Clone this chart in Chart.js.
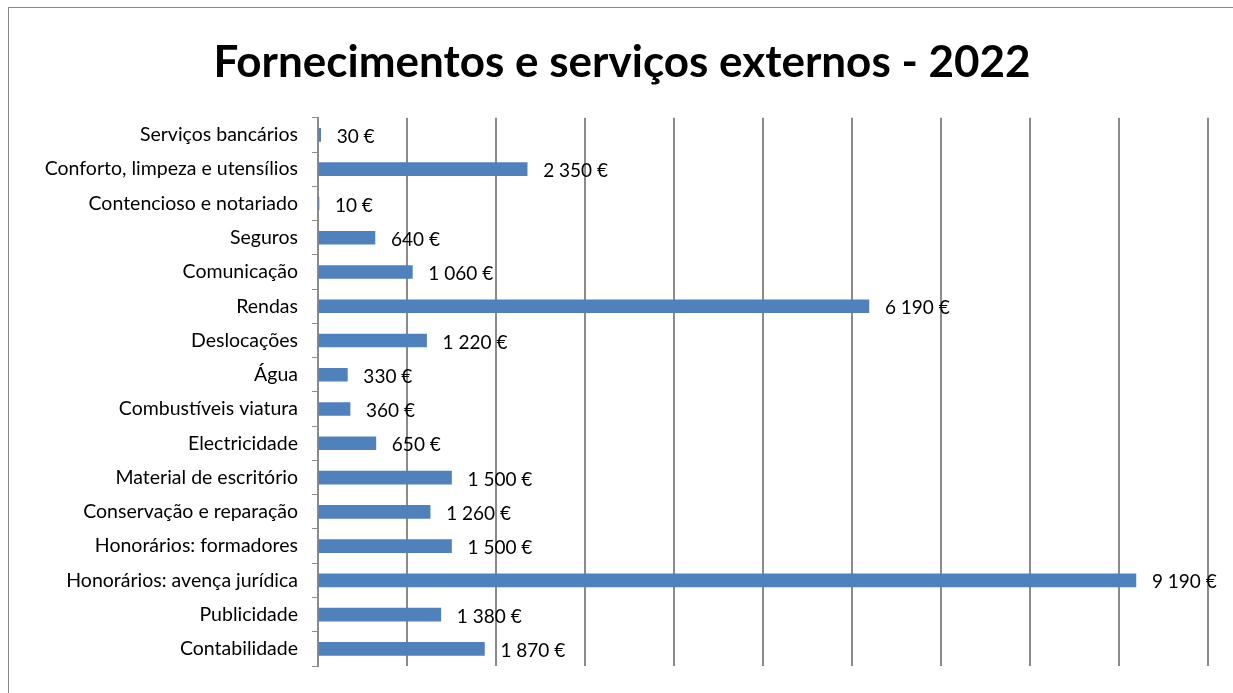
<!DOCTYPE html>
<html><head><meta charset="utf-8">
<script src="https://cdn.jsdelivr.net/npm/chart.js@4/dist/chart.umd.min.js"></script>
<style>
html,body{margin:0;padding:0;background:#fff;overflow:hidden;width:1233px;height:693px;}
#frame{position:absolute;left:8px;top:7px;width:1300px;height:800px;border:1px solid #898989;box-sizing:border-box;}
#wrap{position:absolute;left:0;top:0;width:1233px;height:693px;}
</style></head>
<body>
<div id="frame"></div>
<div id="wrap"><canvas id="c" width="1233" height="693"></canvas></div>
<script>
const categories = ["Serviços bancários","Conforto, limpeza e utensílios","Contencioso e notariado","Seguros","Comunicação","Rendas","Deslocações","Água","Combustíveis viatura","Electricidade","Material de escritório","Conservação e reparação","Honorários: formadores","Honorários: avença jurídica","Publicidade","Contabilidade"];
const values = [30,2350,10,640,1060,6190,1220,330,360,650,1500,1260,1500,9190,1380,1870];
const xTicks = [0,1000,2000,3000,4000,5000,6000,7000,8000,9000,10000];
const titleText = "Fornecimentos e serviços externos - 2022";

const FONT = "Lato, 'Open Sans', sans-serif";
function fmt(v){ return String(v).replace(/\B(?=(\d{3})+(?!\d))/g, " ") + " €"; }

const labelPlugin = {
  id:'vlabels',
  afterDatasetsDraw(chart){
    const ctx = chart.ctx;
    const meta = chart.getDatasetMeta(0);
    ctx.save();
    ctx.font = "19px " + FONT;
    ctx.fillStyle = "#000";
    ctx.textAlign = "left";
    ctx.textBaseline = "middle";
    meta.data.forEach((bar,i)=>{
      ctx.fillText(fmt(values[i]), bar.x + 16, bar.y + 2);
    });
    ctx.restore();
  }
};

new Chart(document.getElementById('c'), {
  type:'bar',
  data:{ labels:categories, datasets:[{ data:values, backgroundColor:'#4F81BD', borderWidth:0, barThickness:13 }]},
  options:{
    indexAxis:'y',
    responsive:false,
    animation:false,
    layout:{ padding:{ left:36, right:25, top:0, bottom:27 } },
    plugins:{
      legend:{display:false},
      tooltip:{enabled:false},
      title:{ display:true, text:titleText, color:'#000',
        font:{ family:FONT, size:44, weight:'bold', lineHeight:1.2 },
        padding:{ top:36, bottom:29 } }
    },
    scales:{
      x:{ min:0, max:10000, afterBuildTicks(s){ s.ticks = xTicks.map(v=>({value:v})); },
        ticks:{ display:false },
        grid:{ color:'#8a8a8a', lineWidth:2, drawTicks:false },
        border:{ display:false },
        afterFit(s){ s.height = 0; }
      },
      y:{
        ticks:{ color:'#000', font:{ family:FONT, size:19.5 }, padding:14 },
        grid:{ drawOnChartArea:false, color:'#8a8a8a', tickLength:6, offset:true },
        border:{ display:true, color:'#8a8a8a', width:2 },
        afterFit(s){ s.width = 282; }
      }
    }
  },
  plugins:[labelPlugin]
});
</script>
</body></html>
